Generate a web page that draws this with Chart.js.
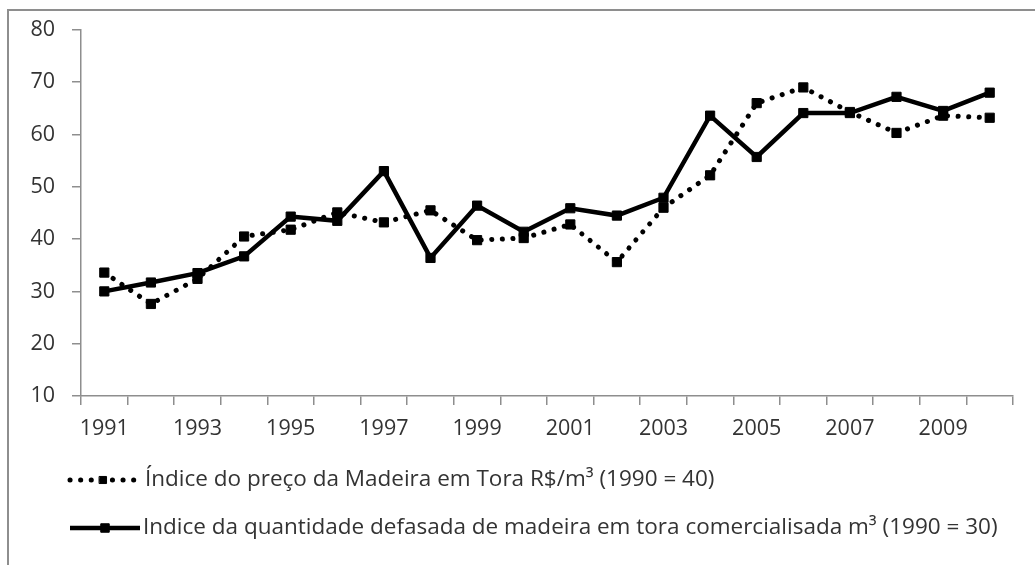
<!DOCTYPE html>
<html>
<head>
<meta charset="utf-8">
<script src="https://cdn.jsdelivr.net/npm/chart.js@4/dist/chart.umd.min.js"></script>
<style>
  html, body { margin: 0; padding: 0; background: #fff; }
  #frame {
    position: absolute; left: 7px; top: 9px; width: 1100px; height: 620px;
    border-left: 2px solid #8e8e8e; border-top: 2px solid #8e8e8e;
  }
  #wrap { position: absolute; left: 0; top: 0; width: 1035px; height: 565px; }
</style>
</head>
<body>
<div id="frame"></div>
<div id="wrap"><canvas id="chart" width="1035" height="565"></canvas></div>
<script>
/* ---- data ---- */
const years = ["1991","1992","1993","1994","1995","1996","1997","1998","1999","2000",
               "2001","2002","2003","2004","2005","2006","2007","2008","2009","2010"];

const precoLabel = "Índice do preço da Madeira em Tora R$/m³ (1990 = 40)";
const precoValues = [33.6, 27.6, 32.4, 40.5, 41.8, 45.1, 43.2, 45.5, 39.8, 40.2,
                     42.8, 35.6, 46.0, 52.2, 66.0, 69.0, 64.3, 60.3, 63.6, 63.2];

const quantLabel = "Indice da quantidade defasada de madeira em tora comercialisada m³ (1990 = 30)";
const quantValues = [30.0, 31.7, 33.5, 36.7, 44.3, 43.5, 53.0, 36.4, 46.4, 41.4,
                     45.9, 44.5, 47.9, 63.6, 55.7, 64.1, 64.1, 67.2, 64.5, 68.0];

const yTicks = [10, 20, 30, 40, 50, 60, 70, 80];

const FONT = "'Open Sans', sans-serif";
const TEXT = "#333333";
const AXIS = "#8e8e8e";

// legend drawn below the plot, one entry per row, Excel style
const rowLegend = {
  id: "rowLegend",
  afterDraw(chart) {
    const ctx = chart.ctx;
    const rows = [
      { ds: chart.data.datasets[0], x0: 70, x1: 136, y: 480, tx: 145, r: 5 },
      { ds: chart.data.datasets[1], x0: 70, x1: 140, y: 528, tx: 143, r: 6 }
    ];
    ctx.save();
    rows.forEach(r => {
      const ds = r.ds;
      ctx.beginPath();
      ctx.strokeStyle = ds.borderColor;
      ctx.lineWidth = ds.borderWidth;
      ctx.lineCap = ds.borderCapStyle || "butt";
      ctx.setLineDash(ds.borderDash || []);
      ctx.moveTo(r.x0, r.y);
      ctx.lineTo(r.x1, r.y);
      ctx.stroke();
      ctx.setLineDash([]);
      const mx = (r.x0 + r.x1) / 2;
      ctx.fillStyle = "#000";
      ctx.strokeStyle = "#000";
      ctx.lineWidth = 1;
      Chart.helpers.drawPoint(ctx, { pointStyle: "rect", radius: r.r, borderWidth: 1 }, mx, r.y);
      ctx.fillStyle = TEXT;
      ctx.font = "22.5px " + FONT;
      ctx.textBaseline = "middle";
      ctx.textAlign = "left";
      ctx.fillText(ds.label, r.tx, r.y);
    });
    ctx.restore();
  }
};

new Chart(document.getElementById("chart").getContext("2d"), {
  type: "line",
  data: {
    labels: years,
    datasets: [
      {
        label: precoLabel,
        data: precoValues,
        borderColor: "#000",
        backgroundColor: "#000",
        borderWidth: 5,
        borderDash: [0.1, 10.5],
        borderCapStyle: "round",
        pointStyle: "rect",
        pointRadius: 6.5,
        pointBorderWidth: 1,
        tension: 0,
        fill: false,
        order: 1
      },
      {
        label: quantLabel,
        data: quantValues,
        borderColor: "#000",
        backgroundColor: "#000",
        borderWidth: 4.5,
        pointStyle: "rect",
        pointRadius: 6.5,
        pointBorderWidth: 1,
        tension: 0,
        fill: false,
        order: 0
      }
    ]
  },
  options: {
    responsive: false,
    animation: false,
    layout: { padding: { top: 29, right: 22, bottom: 109, left: 0 } },
    plugins: {
      legend: { display: false },
      tooltip: { enabled: false }
    },
    scales: {
      x: {
        offset: true,
        grid: {
          offset: true,
          drawOnChartArea: false,
          drawTicks: true,
          tickLength: 9,
          color: AXIS,
          lineWidth: 1.5
        },
        border: { display: true, color: AXIS, width: 1.5 },
        ticks: {
          autoSkip: false,
          maxRotation: 0,
          padding: 11,
          color: TEXT,
          font: { family: FONT, size: 21.5 },
          callback: (v, i) => (i % 2 === 0 ? years[i] : "")
        },
        afterFit: (s) => { s.height = 60; }
      },
      y: {
        min: yTicks[0],
        max: yTicks[yTicks.length - 1],
        afterBuildTicks: (s) => { s.ticks = yTicks.map(v => ({ value: v })); },
        grid: {
          drawOnChartArea: false,
          drawTicks: true,
          tickLength: 9,
          color: AXIS,
          lineWidth: 1.5
        },
        border: { display: true, color: AXIS, width: 1.5 },
        ticks: {
          padding: 17,
          color: TEXT,
          font: { family: FONT, size: 21.5 }
        },
        afterFit: (s) => { s.width = 81; }
      }
    }
  },
  plugins: [rowLegend]
});
</script>
</body>
</html>
